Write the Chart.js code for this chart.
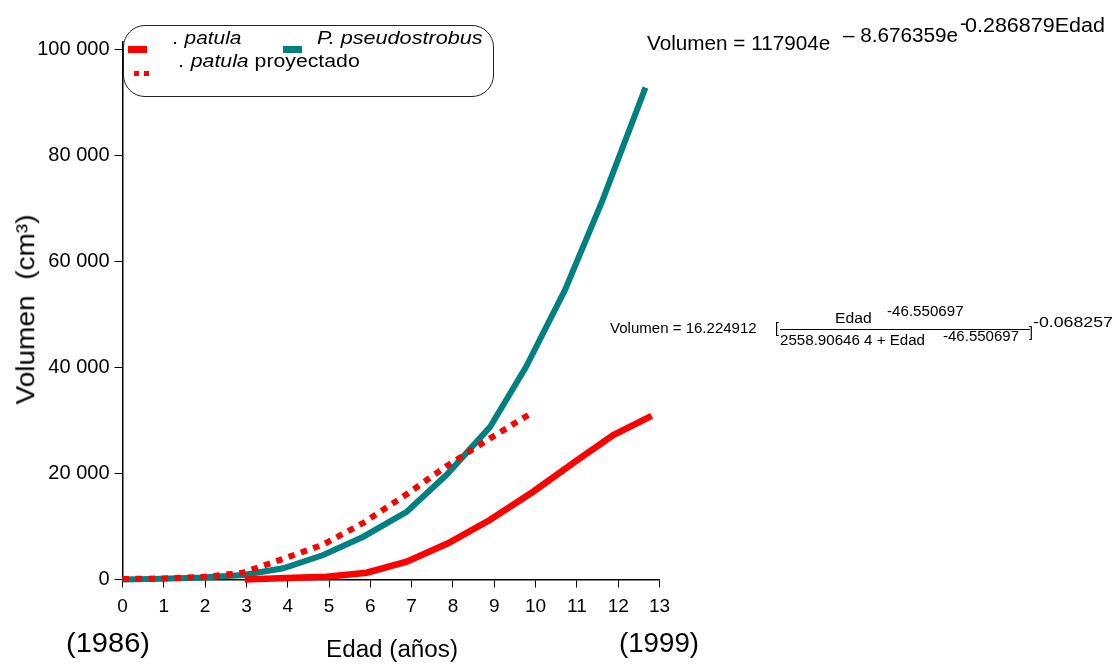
<!DOCTYPE html>
<html><head><meta charset="utf-8">
<script src="https://cdn.jsdelivr.net/npm/chart.js@4.4.1/dist/chart.umd.min.js"></script>
<style>
html,body{margin:0;padding:0;background:#fff;}
#wrap{position:relative;width:1115px;height:664px;overflow:hidden;font-family:"Liberation Sans",Arial,sans-serif;color:#000;}
canvas{position:absolute;left:0;top:0;}
.t{position:absolute;white-space:pre;line-height:1;transform-origin:0 0;}
.sw{position:absolute;}
</style></head><body>
<div id="wrap"><canvas id="c" width="1115" height="664"></canvas></div>
<script>
// ---- data ----
const edadTicks = [0,1,2,3,4,5,6,7,8,9,10,11,12,13];
const volTicks = [0,20000,40000,60000,80000,100000];
const volTickLabels = ['0','20 000','40 000','60 000','80 000','100 000'];

const pseudoEdad = [0,0.97,1.95,2.92,3.89,4.86,5.83,6.88,7.84,8.9,9.77,10.71,11.62,12.66];
const pseudoVol  = [0,150,380,850,2110,4620,8080,12790,19720,28830,40160,54630,71610,92880];

const patulaEdad = [2.96,3.97,4.94,5.91,6.88,7.88,8.89,9.94,10.95,11.88,12.81];
const patulaVol  = [0,280,530,1280,3360,6830,11230,16570,22230,27270,30900];

const proyEdad = [0,0.97,1.95,2.92,3.89,4.86,5.83,6.88,7.84,8.89,9.87];
const proyVol  = [100,190,470,1300,3900,6600,10700,16100,21400,26600,31300];

const FONT = '"Liberation Sans", Arial, sans-serif';
const pts = (xs, ys) => xs.map((x, i) => ({x, y: ys[i]}));

new Chart(document.getElementById('c').getContext('2d'), {
  type: 'line',
  data: { datasets: [
    { label: 'P. patula proyectado', data: pts(proyEdad, proyVol), borderColor: '#ff0000', borderWidth: 6,
      borderDash: [6.5, 6.5], borderCapStyle: 'butt', pointRadius: 0, tension: 0, clip: false, order: 0, fill: false },
    { label: 'P. patula', data: pts(patulaEdad, patulaVol), borderColor: '#ff0000', borderWidth: 6.5,
      borderCapStyle: 'butt', pointRadius: 0, tension: 0, clip: false, order: 1, fill: false },
    { label: 'P. pseudostrobus', data: pts(pseudoEdad, pseudoVol), borderColor: '#008080', borderWidth: 6,
      borderCapStyle: 'butt', pointRadius: 0, tension: 0, clip: false, order: 2, fill: false }
  ]},
  options: {
    responsive: false, animation: false, devicePixelRatio: 1,
    layout: { padding: { top: 42, right: 455.5, bottom: 0, left: 0 } },
    plugins: { legend: { display: false }, tooltip: { enabled: false } },
    scales: {
      x: { type: 'linear', min: 0, max: 13,
        afterBuildTicks: s => { s.ticks = edadTicks.map(v => ({ value: v })); },
        afterFit: s => { s.height = 84.5; },
        ticks: { font: { family: FONT, size: 19 }, color: '#000', padding: 8, maxRotation: 0, autoSkip: false,
          callback: (v, i) => String(edadTicks[i]) },
        grid: { drawOnChartArea: false, drawTicks: true, tickLength: 8, tickColor: '#000', tickWidth: 1 },
        border: { display: true, color: '#000', width: 1.5 } },
      y: { type: 'linear', min: 0, max: 101500,
        afterBuildTicks: s => { s.ticks = volTicks.map(v => ({ value: v })); },
        afterFit: s => { s.width = 122.5; },
        ticks: { font: { family: FONT, size: 20 }, color: '#000', padding: 5, autoSkip: false,
          callback: (v, i) => volTickLabels[i] },
        grid: { drawOnChartArea: false, drawTicks: true, tickLength: 8, tickColor: '#000', tickWidth: 1 },
        border: { display: true, color: '#000', width: 1.5 } }
    }
  }
});

// ---- text overlay (real DOM text) ----
const wrap = document.getElementById('wrap');
function place(html, left, baseline, fs, width, extra) {
  const d = document.createElement('div');
  d.className = 't';
  d.innerHTML = html;
  d.style.fontSize = fs + 'px';
  d.style.left = left + 'px';
  d.style.top = (baseline - 0.8465 * fs) + 'px';
  if (extra) Object.assign(d.style, extra);
  wrap.appendChild(d);
  if (width) {
    const w = d.getBoundingClientRect().width;
    d.style.transform = 'scaleX(' + (width / w) + ')';
  }
  return d;
}
function box(left, top, w, h, css) {
  const d = document.createElement('div');
  d.className = 'sw';
  Object.assign(d.style, { left: left + 'px', top: top + 'px', width: w + 'px', height: h + 'px' }, css || {});
  wrap.appendChild(d);
  return d;
}

// legend
box(123.3, 25, 370.5, 71.5, { border: '1px solid #222', borderRadius: '22px', boxSizing: 'border-box' });
box(127.7, 46, 19, 6.7, { background: '#ff0000' });
box(283.3, 46, 18.5, 6.7, { background: '#008080' });
box(134, 70.7, 5, 5, { background: '#ff0000' });
box(144, 70.7, 5, 5, { background: '#ff0000' });
place('<i>. patula</i>', 173.3, 45, 17.5, 68.4);
place('<i>P. pseudostrobus</i>', 316.7, 45, 17.5, 165.6);
place('<i>. patula</i> proyectado', 179.3, 68.3, 17.5, 180.7);

// equation 1
place('Volumen = 117904e', 646.7, 50, 20, 183.3);
place('– 8.676359e', 843, 41.5, 20, 115);
place('-', 960, 30, 20, null);
place('0.286879Edad', 965, 31.5, 20, 140);

// equation 2
place('Volumen = 16.224912', 610, 333, 14, 146.7);
place('[', 775, 333, 14, null);
place('Edad', 835, 323, 14, 36.7);
place('-46.550697', 886.7, 315.5, 14, 76.6);
box(780, 328.5, 250, 1, { background: '#000' });
place('2558.90646 4 + Edad', 780, 345, 14, 145);
place('-46.550697', 943.3, 340.5, 14, 76);
place(']', 1029, 337, 14, null);
place('-0.068257', 1033, 327, 14, 80);

// axis titles
place('Edad (años)', 326, 657, 23, 132);
place('(1986)', 66, 653, 27, 84);
place('(1999)', 619, 653, 27, 80);

const yt = document.createElement('div');
yt.className = 't';
yt.textContent = 'Volumen  (cm³)';
yt.style.fontSize = '25px';
wrap.appendChild(yt);
const r = yt.getBoundingClientRect();
const sx = 190 / r.width;
yt.style.left = (26 - r.width / 2) + 'px';
yt.style.top = (309 - r.height / 2) + 'px';
yt.style.transformOrigin = '50% 50%';
yt.style.transform = 'rotate(-90deg) scaleX(' + sx + ')';
</script>
</body></html>
